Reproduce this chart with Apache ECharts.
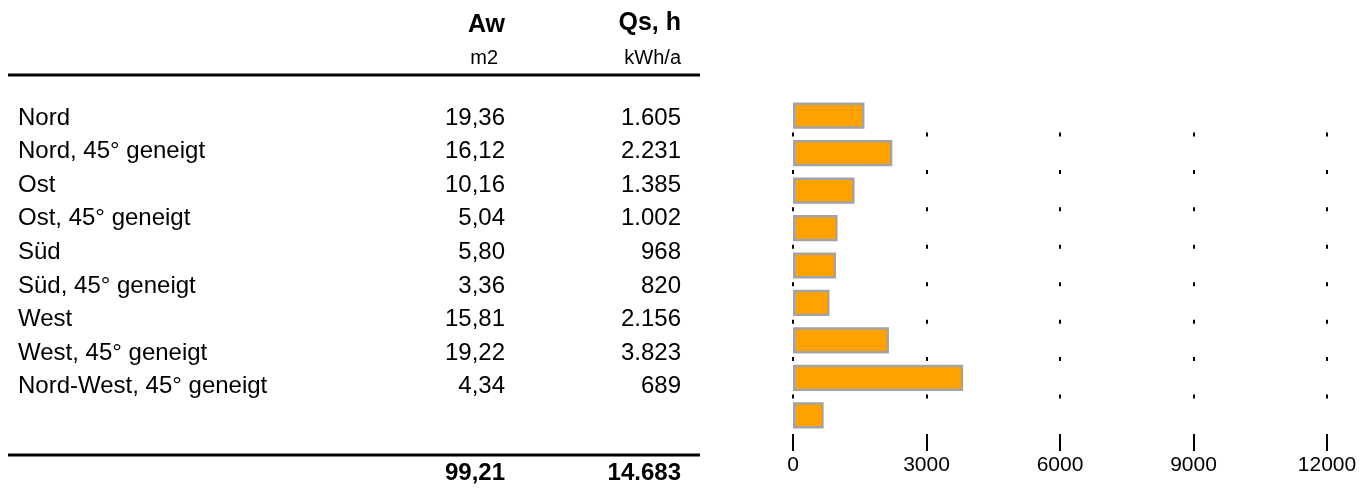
<!DOCTYPE html>
<html>
<head>
<meta charset="utf-8">
<script src="https://cdn.jsdelivr.net/npm/echarts@6/dist/echarts.min.js"></script>
<style>
  html, body { margin: 0; padding: 0; background: #fff; }
  #chart { width: 1371px; height: 490px; }
</style>
</head>
<body>
<div id="chart"></div>
<script>
// window areas by orientation
const categories = [
  'Nord', 'Nord, 45° geneigt', 'Ost', 'Ost, 45° geneigt', 'Süd',
  'Süd, 45° geneigt', 'West', 'West, 45° geneigt', 'Nord-West, 45° geneigt'
]
const awValues = [19.36, 16.12, 10.16, 5.04, 5.80, 3.36, 15.81, 19.22, 4.34]   // m2
const qsValues = [1605, 2231, 1385, 1002, 968, 820, 2156, 3823, 689]          // kWh/a
const awTotal = 99.21
const qsTotal = 14683
const xMin = 0, xMax = 12000, xStep = 3000

const FONT = '"Liberation Sans", Arial, sans-serif'
const fmtAw = v => v.toLocaleString('de-DE', { minimumFractionDigits: 2, maximumFractionDigits: 2 })
const fmtQs = v => v.toLocaleString('de-DE')

// table layout
const rowTop = 118, rowStep = 33.6
const nameX = 18, awX = 505, qsX = 681

const txt = (text, x, y, size, bold, align) => ({
  type: 'text', x, y, silent: true,
  style: {
    text, fill: '#000', align: align || 'right', verticalAlign: 'middle',
    font: `${bold ? 'bold ' : ''}${size}px ${FONT}`
  }
})

const graphic = [
  txt('Aw', awX, 25, 25, true),
  txt('Qs, h', qsX, 23, 25, true),
  txt('m2', awX - 7, 58, 20, false),
  txt('kWh/a', qsX, 58, 20, false),
  { type: 'line', silent: true, shape: { x1: 8, y1: 75, x2: 700, y2: 75 }, style: { stroke: '#000', lineWidth: 3 } },
  { type: 'line', silent: true, shape: { x1: 8, y1: 455, x2: 700, y2: 455 }, style: { stroke: '#000', lineWidth: 3 } },
  txt(fmtAw(awTotal), awX, 473, 24, true),
  txt(fmtQs(qsTotal), qsX, 473, 24, true)
]
categories.forEach((c, i) => {
  const y = rowTop + i * rowStep
  graphic.push(txt(c, nameX, y, 24, false, 'left'))
  graphic.push(txt(fmtAw(awValues[i]), awX, y, 24, false))
  graphic.push(txt(fmtQs(qsValues[i]), qsX, y, 24, false))
})

const band = 337 / categories.length

const option = {
  animation: false,
  grid: [
    { left: 793, right: 44, top: 97, height: 337 },
    // thin strip only for the short dashes between rows
    { left: 793, right: 44, top: 97 + band - 2, height: band * (categories.length - 2) + 4 }
  ],
  xAxis: [
    {
      gridIndex: 0, type: 'value', min: xMin, max: xMax, interval: xStep,
      axisLine: { show: false },
      axisTick: { show: true, length: 17, lineStyle: { color: '#000', width: 2 } },
      axisLabel: { color: '#000', fontSize: 21, fontFamily: FONT, margin: 21, formatter: v => String(v) },
      splitLine: { show: false }
    },
    {
      gridIndex: 1, type: 'value', min: xMin, max: xMax, interval: xStep,
      axisLine: { show: false }, axisTick: { show: false }, axisLabel: { show: false },
      splitLine: { show: true, lineStyle: { color: '#000', width: 2, type: [4, band - 4] } }
    }
  ],
  yAxis: [
    {
      gridIndex: 0, type: 'category', inverse: true, data: categories,
      axisLine: { show: false }, axisTick: { show: false }, axisLabel: { show: false }
    },
    {
      gridIndex: 1, type: 'value', show: false
    }
  ],
  series: [
    {
      type: 'bar', xAxisIndex: 0, yAxisIndex: 0,
      data: qsValues,
      barCategoryGap: '30%',
      itemStyle: { color: '#FFA200', borderColor: '#A3A3A3', borderWidth: 2.5 }
    }
  ],
  graphic
}

const chart = echarts.init(document.getElementById('chart'))
chart.setOption(option)
window.addEventListener('resize', () => chart.resize())
</script>
</body>
</html>
